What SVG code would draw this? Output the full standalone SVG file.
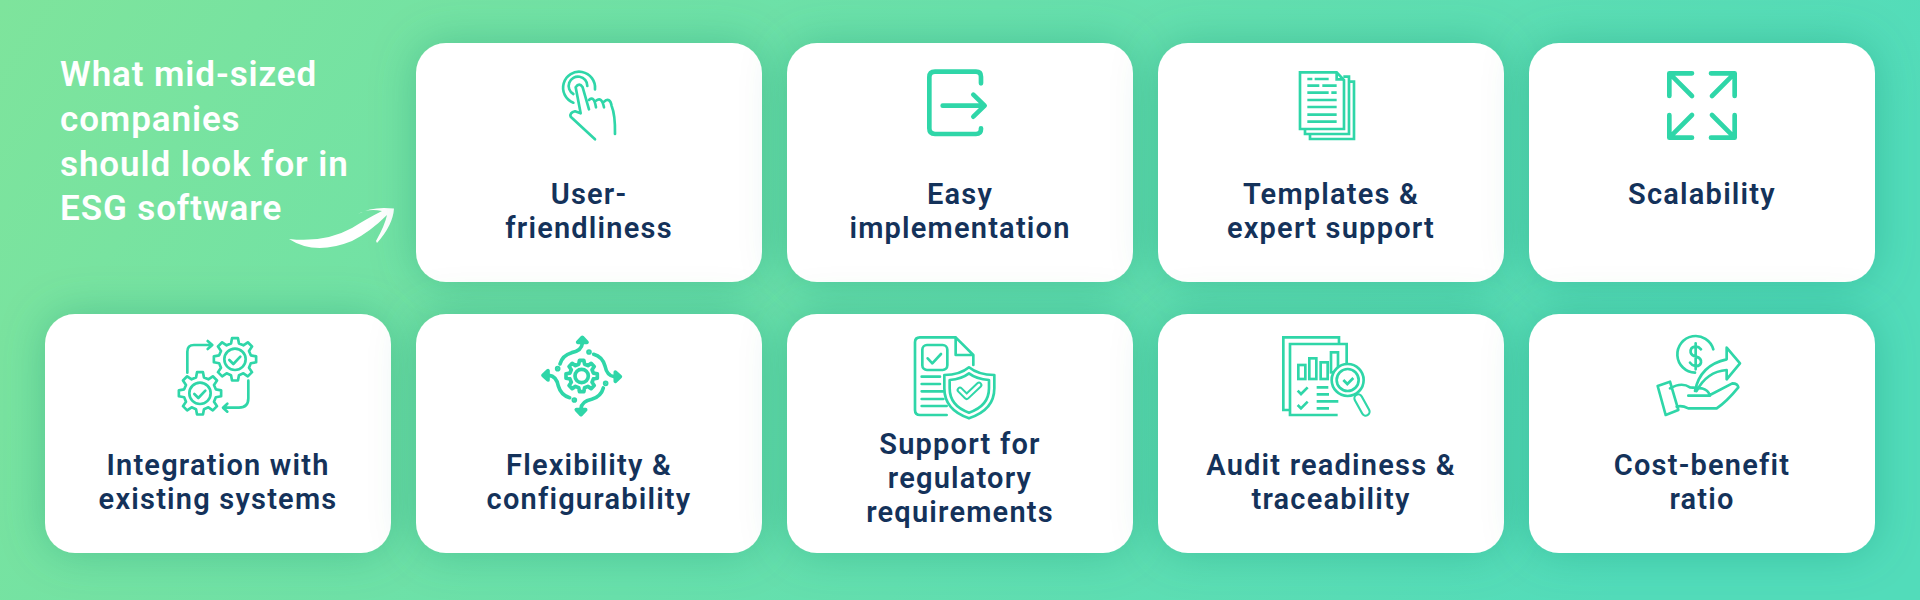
<svg xmlns="http://www.w3.org/2000/svg" xmlns:xlink="http://www.w3.org/1999/xlink" width="1920" height="600" viewBox="0 0 1920 600">
<style>
.card{fill:#fff;filter:url(#sh)}
.lb{font-family:Roboto,"Liberation Sans",sans-serif;font-weight:600;font-size:29px;letter-spacing:1.2px;fill:#14325a;text-anchor:middle}
.tt{font-family:Roboto,"Liberation Sans",sans-serif;font-weight:600;font-size:35px;letter-spacing:.9px;fill:#fff}
.ic{fill:none;stroke:#2fd6a8;stroke-width:8;stroke-linecap:round;stroke-linejoin:round}
.thick{stroke-width:14}
.butt{stroke-linecap:butt;stroke-linejoin:miter}
</style>
<defs>
<linearGradient id="bg" x1="0" y1="0" x2="1" y2="0.2"><stop offset="0" stop-color="#7ee49c"/><stop offset="1" stop-color="#52dcba"/></linearGradient>
<filter id="sh" x="-20%" y="-25%" width="140%" height="150%"><feDropShadow dx="0" dy="0" stdDeviation="22" flood-color="#1f7f66" flood-opacity=".3"/></filter>
<path id="gear" d="M47.500 -11.900L63.400 -8.900L63.400 8.900L47.500 11.900L42 25.200L51.100 38.500L38.500 51.100L25.200 42L11.900 47.500L8.900 63.400L-8.900 63.400L-11.900 47.500L-25.200 42L-38.500 51.100L-51.100 38.500L-42 25.200L-47.500 11.900L-63.400 8.900L-63.400 -8.900L-47.500 -11.900L-42 -25.200L-51.100 -38.500L-38.500 -51.100L-25.200 -42L-11.900 -47.500L-8.900 -63.400L8.900 -63.400L11.900 -47.500L25.200 -42L38.500 -51.100L51.100 -38.500L42 -25.200Z"/>
<g id="flow"><path d="M157 40Q155 62 125 68Q97 76 90 102"/><path d="M143 37L157 22L171 37Z" fill="#2fd6a8"/><circle cx="177" cy="66" r="3" fill="#2fd6a8"/></g>
</defs>
<rect width="1920" height="600" fill="url(#bg)"/>
<g id="title">
<text class="tt" x="60" y="86">What mid-sized</text>
<text class="tt" x="60" y="131">companies</text>
<text class="tt" x="60" y="176">should look for in</text>
<text class="tt" x="60" y="220">ESG software</text>
</g>
<g id="connectors"><path id="swoosh" fill="#fff" d="M289 239Q325 243 352 228Q368 218 382 211Q368 208 358 214Q372 206 394 208.500Q393 225 377 243L376 241Q385 225 387 215Q370 232 352 241Q315 256 289 239Z"/></g>

<g id="user-friendliness"><rect class="card" x="416" y="43" width="346" height="239" rx="30"/>
<g class="ic" transform="translate(540 50) scale(.3333)"><path d="M100 158A48 48 0 1 1 165 118M100 132A28 28 0 1 1 142 108"/><path d="M147 178L128 112Q118 96 107 112L122 190L105 184Q88 188 92 200L165 268"/><path d="M147 150Q162 135 168 172M168 152Q185 138 192 172M192 155Q210 140 215 168Q226 195 225 252"/></g>
<text class="lb" x="589" y="204">User-</text><text class="lb" x="589" y="238">friendliness</text></g>

<g id="easy-implementation"><rect class="card" x="787" y="43" width="346" height="239" rx="30"/>
<g class="ic thick" transform="translate(910 60) scale(.3333)"><path d="M213 70V50Q213 35 198 35H75Q58 35 58 52V205Q58 222 75 222H198Q213 222 213 207V205"/><path d="M98 137H222M190 104L224 137L190 170"/></g>
<text class="lb" x="960" y="204">Easy</text><text class="lb" x="960" y="238">implementation</text></g>

<g id="templates"><rect class="card" x="1158" y="43" width="346" height="239" rx="30"/>
<g class="ic butt" transform="translate(1280 60) scale(.3333)"><path d="M60 37H170L192 60V207H60Z"/><path d="M170 37V58H192M190 50H207V222H75V207M207 65H222V237H90V222"/><path d="M82 57H97M104 57H146M82 77H118M127 77H170M82 98H146M154 98H170M82 120H170M82 141H170M82 164H170M82 185H170"/></g>
<text class="lb" x="1331" y="204">Templates &amp;</text><text class="lb" x="1331" y="238">expert support</text></g>

<g id="scalability"><rect class="card" x="1529" y="43" width="346" height="239" rx="30"/>
<g class="ic thick" transform="translate(1650 60) scale(.3333)"><path d="M58 108V40H126M62 44L126 108M183 40H254V108M250 44L186 108M58 165V233H126M62 229L126 165M254 165V233H183M250 229L186 165"/></g>
<text class="lb" x="1702" y="204">Scalability</text></g>

<g id="integration"><rect class="card" x="45" y="314" width="346" height="239" rx="30"/>
<g class="ic" transform="translate(165 330) scale(.3333)"><use href="#gear" x="210" y="88"/><use href="#gear" x="105" y="190"/><circle cx="210" cy="88" r="32"/><circle cx="105" cy="190" r="32"/><path d="M193 90L205 102L226 80M88 192L100 204L121 182M67 128V65Q67 45 87 45H140M128 33L142 45L128 57M250 152V205Q250 233 222 233H175M187 221L174 233L187 245"/></g>
<text class="lb" x="218" y="475">Integration with</text><text class="lb" x="218" y="509">existing systems</text></g>

<g id="flexibility"><rect class="card" x="416" y="314" width="346" height="239" rx="30"/>
<g class="ic" style="stroke-width:11" transform="translate(530 330) scale(.3333)"><g transform="translate(155 138) scale(.74)" style="stroke-width:15"><use href="#gear"/></g><circle cx="155" cy="138" r="20"/><use href="#flow"/><use href="#flow" transform="rotate(90 155 138)"/><use href="#flow" transform="rotate(180 155 138)"/><use href="#flow" transform="rotate(270 155 138)"/></g>
<text class="lb" x="589" y="475">Flexibility &amp;</text><text class="lb" x="589" y="509">configurability</text></g>

<g id="regulatory"><rect class="card" x="787" y="314" width="346" height="239" rx="30"/>
<g class="ic" transform="translate(905 330) scale(.3333)"><path d="M205 105V75L152 22H45Q30 22 30 37V240Q30 255 45 255H125M152 22V75H205"/><rect x="52" y="45" width="75" height="75" rx="14"/><path d="M68 85L82 100L108 72M50 140H105M50 162H105M50 184H115M50 207H115M50 228H125"/><path d="M192 112Q165 135 118 135V175Q118 240 192 265Q268 240 268 175V135Q220 135 192 112Z"/><path d="M192 130Q170 147 134 150V175Q134 228 192 248Q252 228 252 175V150Q214 147 192 130Z"/><path d="M165 180L185 200L222 165" style="stroke-width:20"/><path d="M165 180L185 200L222 165" style="stroke:#fff;stroke-width:8"/></g>
<text class="lb" x="960" y="454">Support for</text><text class="lb" x="960" y="488">regulatory</text><text class="lb" x="960" y="522">requirements</text></g>

<g id="audit"><rect class="card" x="1158" y="314" width="346" height="239" rx="30"/>
<g class="ic butt" transform="translate(1275 330) scale(.3333)"><path d="M42 240H25V22H192V42"/><path d="M188 255H45V42H215V100"/><rect x="70" y="105" width="21" height="42"/><rect x="103" y="85" width="21" height="62"/><rect x="137" y="97" width="21" height="50"/><rect x="168" y="67" width="21" height="60"/><path d="M68 182L78 192L98 172M68 225L78 235L98 215M125 172H160M125 193H162M125 214H190M125 235H162"/><circle cx="218" cy="150" r="48" fill="#fff"/><circle cx="218" cy="150" r="33"/><path d="M205 150L217 162L235 144"/><path d="M250 205L272 245" style="stroke-width:30;stroke-linecap:round"/><path d="M250 205L272 245" style="stroke:#fff;stroke-width:17;stroke-linecap:round"/></g>
<text class="lb" x="1331" y="475">Audit readiness &amp;</text><text class="lb" x="1331" y="509">traceability</text></g>

<g id="cost-benefit"><rect class="card" x="1529" y="314" width="346" height="239" rx="30"/>
<g class="ic" transform="translate(1645 330) scale(.3333)"><path d="M205 58A55 55 0 1 0 150 128"/><path d="M168 58Q160 48 150 50Q135 52 137 68Q140 78 153 80Q170 84 168 98Q165 110 150 108Q140 106 135 98M152 40V118"/><path d="M38 168L75 155L100 240L62 255Z"/><path d="M75 175Q110 155 135 172L170 175Q190 180 195 197H130M195 195L262 160Q278 160 280 172Q245 215 215 235H130Q110 225 95 230"/><path d="M150 183Q165 105 245 88V53L285 100L245 148V120Q185 125 155 183"/></g>
<text class="lb" x="1702" y="475">Cost-benefit</text><text class="lb" x="1702" y="509">ratio</text></g>
</svg>
